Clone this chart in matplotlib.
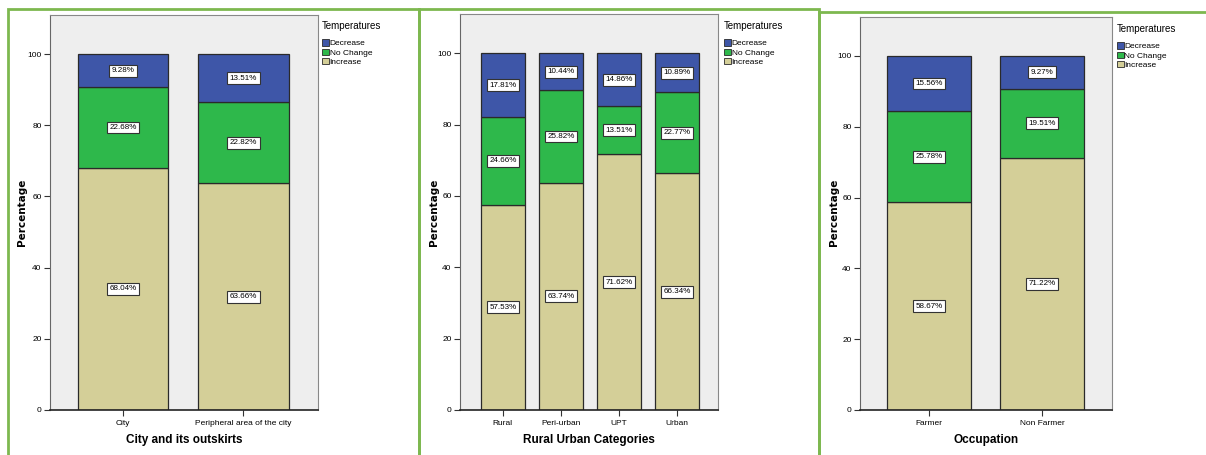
import matplotlib
matplotlib.use("Agg")
import matplotlib.pyplot as plt
from matplotlib.patches import Rectangle, Patch
from matplotlib import font_manager

# ---- data -------------------------------------------------------------
city_cats = ["City", "Peripheral area of the city"]
city_increase = [68.04, 63.66]
city_nochange = [22.68, 22.82]
city_decrease = [9.28, 13.51]

ru_cats = ["Rural", "Peri-urban", "UPT", "Urban"]
ru_increase = [57.53, 63.74, 71.62, 66.34]
ru_nochange = [24.66, 25.82, 13.51, 22.77]
ru_decrease = [17.81, 10.44, 14.86, 10.89]

occ_cats = ["Farmer", "Non Farmer"]
occ_increase = [58.67, 71.22]
occ_nochange = [25.78, 19.51]
occ_decrease = [15.56, 9.27]

y_ticks = [0, 20, 40, 60, 80, 100]
series_names = ["Decrease", "No Change", "Increase"]
legend_title = "Temperatures"
y_title = "Percentage"

# ---- style ------------------------------------------------------------
names = {f.name for f in font_manager.fontManager.ttflist}
narrow = "Liberation Sans Narrow" if "Liberation Sans Narrow" in names else "Liberation Sans"
plt.rcParams["font.family"] = [narrow, "DejaVu Sans"]

C_DEC = "#3E56A8"
C_NOC = "#2EB84B"
C_INC = "#D4CF98"
BG = "#EEEEEE"
EDGE = "#2a2a2a"
FRAME_GREEN = "#7DB84F"

W, H = 1206, 455
fig = plt.figure(figsize=(W / 100, H / 100), dpi=100)
fig.patch.set_facecolor("white")


def fx(px):
    return px / W


def fy(py):
    return 1 - py / H


def panel(left, right, top, bottom, cats, inc, noc, dec, xlim, xtitle, leg_x, leg_y):
    ax = fig.add_axes([fx(left), fy(bottom), fx(right - left), (bottom - top) / H])
    ax.set_facecolor(BG)
    x = list(range(len(cats)))
    bw = 0.75
    bottoms_noc = inc
    bottoms_dec = [a + b for a, b in zip(inc, noc)]
    ax.bar(x, inc, bw, color=C_INC, edgecolor=EDGE, linewidth=0.9, zorder=2)
    ax.bar(x, noc, bw, bottom=bottoms_noc, color=C_NOC, edgecolor=EDGE, linewidth=0.9, zorder=2)
    ax.bar(x, dec, bw, bottom=bottoms_dec, color=C_DEC, edgecolor=EDGE, linewidth=0.9, zorder=2)
    box = dict(boxstyle="square,pad=0.3", fc="white", ec="#333333", lw=0.8)
    for i in x:
        for base, val in ((0, inc[i]), (bottoms_noc[i], noc[i]), (bottoms_dec[i], dec[i])):
            ax.text(i, base + val / 2, f"{val:.2f}%", ha="center", va="center",
                    fontsize=5.8, bbox=box, zorder=4)
    ax.set_xlim(*xlim)
    ax.set_ylim(0, 111)
    ax.set_yticks(y_ticks)
    ax.set_yticklabels([str(t) for t in y_ticks], fontsize=6)
    ax.set_xticks(x)
    ax.set_xticklabels(cats, fontsize=6)
    ax.tick_params(axis="both", length=4, width=0.8, color="#333333", pad=2)
    ax.tick_params(axis="x", pad=3)
    for s in ("top", "right"):
        ax.spines[s].set_color("#888888")
        ax.spines[s].set_linewidth(0.8)
    ax.spines["left"].set_color("#666666")
    ax.spines["left"].set_linewidth(0.8)
    ax.spines["bottom"].set_color("#222222")
    ax.spines["bottom"].set_linewidth(1.2)
    ax.set_xlabel(xtitle, fontsize=8.5, fontweight="bold", labelpad=5)

    handles = [Patch(facecolor=c, edgecolor=EDGE, linewidth=0.6, label=n)
               for c, n in zip((C_DEC, C_NOC, C_INC), series_names)]
    leg = fig.legend(handles=handles, title=legend_title, loc="upper left",
                     bbox_to_anchor=(fx(leg_x), fy(leg_y)), frameon=False,
                     fontsize=6, title_fontsize=7, handlelength=0.8,
                     handleheight=0.8, handletextpad=0.1, labelspacing=0.15,
                     borderpad=0, borderaxespad=0, alignment="left")
    leg._legend_box.sep = 6
    return ax


ax1 = panel(50, 318, 15, 410, city_cats, city_increase, city_nochange, city_decrease,
            (-0.61, 1.62), "City and its outskirts", 322, 21)
ax2 = panel(460, 718, 14, 410, ru_cats, ru_increase, ru_nochange, ru_decrease,
            (-0.74, 3.71), "Rural Urban Categories", 724, 21)
ax3 = panel(860, 1112, 17, 410, occ_cats, occ_increase, occ_nochange, occ_decrease,
            (-0.61, 1.62), "Occupation", 1117, 24)

for xp in (22, 434, 834):
    fig.text(fx(xp), fy(212), y_title, rotation=90, ha="center", va="center",
             fontsize=7.5, fontweight="bold", family=["DejaVu Sans"])

# green panel frames
for left, right, top in ((8, 419, 9), (419, 819, 9), (819, 1212, 12)):
    fig.add_artist(Rectangle((fx(left), fy(470)), fx(right - left), (470 - top) / H,
                             transform=fig.transFigure, fill=False,
                             edgecolor=FRAME_GREEN, linewidth=2.0, zorder=10))

fig.savefig("out.png", dpi=100, facecolor="white")
